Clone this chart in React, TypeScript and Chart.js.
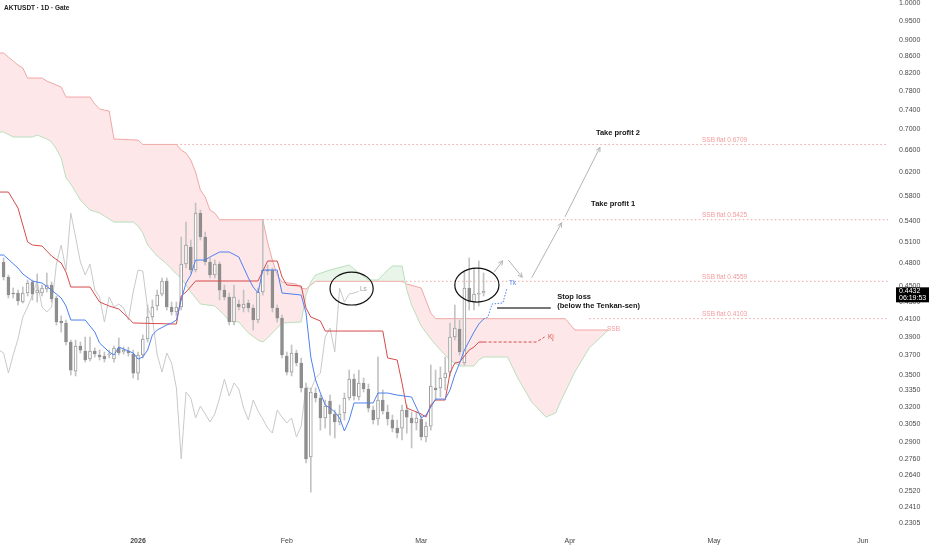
import React, { useEffect, useRef } from "react";
import { Chart, registerables } from "chart.js";

Chart.register(...registerables);

// ---------- axes ----------
const xMinDay = -28.75;
const xMaxDay = 156.25;
const monthTickDays = [0, 31, 59, 90, 120, 151];
const monthTickLabels = ["2026", "Feb", "Mar", "Apr", "May", "Jun"];
const priceTicks = [
  1.0, 0.95, 0.9, 0.86, 0.82, 0.78, 0.74, 0.7, 0.66, 0.62, 0.58, 0.54, 0.51, 0.48, 0.45, 0.43, 0.41, 0.39,
  0.37, 0.35, 0.335, 0.32, 0.305, 0.29, 0.276, 0.264, 0.252, 0.241, 0.2305,
];
const yMaxPrice = 1.0085;
const yMinPrice = 0.2247;

// ---------- candles (daily, first candle = 28 days before 1 Jan 2026) ----------
const candleStartDay = -28;
const opens = [
  0.4814, 0.4615, 0.4411, 0.4411, 0.43, 0.4411, 0.455, 0.4411, 0.4411, 0.4461, 0.4512, 0.4349, 0.4076, 0.4053,
  0.3841, 0.3539, 0.3798, 0.3745, 0.3661, 0.3745, 0.3703, 0.3692, 0.3703, 0.3661, 0.3777, 0.3734, 0.3745, 0.3713,
  0.3519, 0.3703, 0.3874, 0.4122, 0.4252, 0.4398, 0.4563, 0.424, 0.4181, 0.424, 0.4787, 0.5022, 0.4707, 0.5528,
  0.5166, 0.4814, 0.4641, 0.4787, 0.4448, 0.4361, 0.4064, 0.4276, 0.4228, 0.4288, 0.4228, 0.4087, 0.4423, 0.4707,
  0.4707, 0.4228, 0.411, 0.3692, 0.3529, 0.3724, 0.362, 0.3374, 0.2777, 0.3326, 0.328, 0.31, 0.3252, 0.3135,
  0.3065, 0.3144, 0.328, 0.346, 0.3289, 0.3422, 0.3364, 0.317, 0.3091, 0.3261, 0.3153, 0.3082, 0.3013, 0.3013,
  0.317, 0.31, 0.3056, 0.3091, 0.2938, 0.303, 0.3374, 0.3374, 0.347, 0.3529, 0.3896, 0.3985, 0.362, 0.4474, 0.43,
  0.4398, 0.4411,
];
const highs = [
  0.4869, 0.4641, 0.4474, 0.4448, 0.4486, 0.4576, 0.4576, 0.4654, 0.4512, 0.4667, 0.455, 0.4374, 0.4134, 0.4087,
  0.3863, 0.3863, 0.3841, 0.3896, 0.3896, 0.3777, 0.3755, 0.3734, 0.3755, 0.3798, 0.3885, 0.3787, 0.3787, 0.3755,
  0.3734, 0.3918, 0.4264, 0.4325, 0.4448, 0.4602, 0.4602, 0.43, 0.43, 0.5166, 0.5389, 0.5122, 0.5686, 0.5575,
  0.5239, 0.4869, 0.4841, 0.4814, 0.4512, 0.4411, 0.4512, 0.4325, 0.4448, 0.4325, 0.4264, 0.4474, 0.542, 0.4774,
  0.4733, 0.4264, 0.4145, 0.3734, 0.3809, 0.3755, 0.3672, 0.3422, 0.3374, 0.3374, 0.3307, 0.3261, 0.3307, 0.317,
  0.3216, 0.3326, 0.3549, 0.3509, 0.3549, 0.347, 0.3412, 0.3206, 0.3682, 0.3355, 0.3216, 0.3126, 0.3082, 0.3216,
  0.3216, 0.3153, 0.3153, 0.3126, 0.3065, 0.36, 0.3549, 0.358, 0.3682, 0.4053, 0.4264, 0.4087, 0.468, 0.4869,
  0.4733, 0.4828, 0.4667,
];
const lows = [
  0.4576, 0.4349, 0.4349, 0.4264, 0.4288, 0.4374, 0.4325, 0.43, 0.4374, 0.4423, 0.43, 0.403, 0.3951, 0.3809, 0.35,
  0.349, 0.3724, 0.363, 0.3641, 0.3682, 0.3651, 0.363, 0.3672, 0.363, 0.3703, 0.3713, 0.3692, 0.347, 0.3451,
  0.3672, 0.3841, 0.4087, 0.4204, 0.4374, 0.4204, 0.4145, 0.4134, 0.4204, 0.4733, 0.4667, 0.468, 0.5122, 0.4774,
  0.4602, 0.4602, 0.4325, 0.4325, 0.403, 0.403, 0.4204, 0.4181, 0.4181, 0.3974, 0.4053, 0.4386, 0.4641, 0.4181,
  0.4064, 0.3672, 0.35, 0.349, 0.359, 0.3336, 0.273, 0.2515, 0.3243, 0.2996, 0.3013, 0.2954, 0.293, 0.3039,
  0.3082, 0.3261, 0.3261, 0.3261, 0.3336, 0.3153, 0.3048, 0.3039, 0.3135, 0.3039, 0.298, 0.293, 0.2913, 0.2971,
  0.2848, 0.2996, 0.2913, 0.2897, 0.2996, 0.3261, 0.3289, 0.3355, 0.349, 0.3863, 0.3703, 0.36, 0.4204, 0.4204,
  0.4252, 0.4374,
];
const closes = [
  0.4615, 0.4386, 0.4399, 0.4313, 0.4411, 0.4537, 0.4398, 0.4448, 0.4474, 0.4512, 0.4337, 0.4064, 0.4053, 0.3841,
  0.3549, 0.3798, 0.3755, 0.3651, 0.3745, 0.3713, 0.3682, 0.3661, 0.3713, 0.3777, 0.3724, 0.3755, 0.3724, 0.3519,
  0.3703, 0.3874, 0.4122, 0.424, 0.4386, 0.4563, 0.424, 0.4181, 0.424, 0.4787, 0.5051, 0.4707, 0.5528, 0.5166,
  0.4814, 0.4641, 0.4787, 0.4448, 0.4361, 0.4064, 0.4361, 0.424, 0.4276, 0.4228, 0.4087, 0.4423, 0.4707, 0.4693,
  0.4228, 0.411, 0.3703, 0.3529, 0.3724, 0.362, 0.3374, 0.2761, 0.3336, 0.328, 0.31, 0.3206, 0.3135, 0.3065,
  0.3135, 0.328, 0.346, 0.3298, 0.3422, 0.3364, 0.3188, 0.3082, 0.3261, 0.3162, 0.3091, 0.3013, 0.2971, 0.317,
  0.3108, 0.3056, 0.31, 0.2938, 0.303, 0.3393, 0.3355, 0.347, 0.3519, 0.3896, 0.3996, 0.3734, 0.4474, 0.43, 0.4398,
  0.4411, 0.4432,
];

// ---------- Ichimoku lines: [day, price] ----------
const tenkanSen: [number, number][] = [
  [-29, 0.491], [-28, 0.491], [-25, 0.4733], [-24, 0.4654], [-22, 0.4563], [-20, 0.4537], [-18, 0.4448],
  [-16, 0.4349], [-15, 0.4252], [-14, 0.4087], [-11, 0.4087], [-9, 0.3951], [-8, 0.383], [-6, 0.3734],
  [-5, 0.3703], [-4, 0.3787], [-1, 0.3724], [0, 0.3661], [1, 0.3682], [2, 0.3755], [3, 0.3918], [4, 0.3974],
  [6, 0.403], [7, 0.4053], [8, 0.4087], [9, 0.4325], [10, 0.4537], [11, 0.4641], [12, 0.4841], [14, 0.4841],
  [15, 0.4883], [17, 0.4952], [19, 0.4952], [21, 0.4883], [23, 0.4602], [24, 0.4486], [25, 0.4411], [26, 0.4707],
  [29, 0.4707], [30, 0.4411], [34, 0.4386], [35, 0.4169], [36, 0.3682], [37, 0.3451], [38, 0.3326], [39, 0.3216],
  [40, 0.3188], [41, 0.3153], [42, 0.31], [43, 0.2988], [44, 0.3082], [45, 0.3234], [49, 0.3234], [50, 0.3326],
  [52, 0.3326], [54, 0.3307], [57, 0.3289], [59, 0.31], [60, 0.3126], [61, 0.3197], [62, 0.327], [64, 0.327],
  [65, 0.3355], [66, 0.35], [67, 0.362], [68, 0.3755], [70, 0.3951], [71, 0.4041], [72, 0.4099],
];
const tenkanProjection: [number, number][] = [
  [72, 0.4099], [72.9, 0.4122], [73.75, 0.4276], [76.0, 0.4288], [76.9, 0.4474],
];
const kijunSen: [number, number][] = [
  [-29, 0.5865], [-27, 0.5865], [-25, 0.5607], [-23, 0.5094], [-22, 0.5051], [-20, 0.5036], [-18, 0.4896],
  [-16, 0.4801], [-15, 0.468], [-14, 0.4486], [-10, 0.4486], [-8, 0.43], [-6, 0.4252], [-4, 0.4216], [-2, 0.411],
  [-1, 0.4053], [8, 0.4041], [9, 0.4374], [10, 0.4423], [12, 0.4563], [25, 0.4563], [26, 0.4693], [27, 0.4828],
  [29, 0.4828], [30, 0.4615], [31, 0.4512], [34, 0.4499], [35, 0.4228], [36, 0.4122], [38, 0.4076], [39, 0.3962],
  [51, 0.3962], [52, 0.3672], [54, 0.3651], [55, 0.3422], [56, 0.3188], [59, 0.3135], [60, 0.3108], [61, 0.3216],
  [62, 0.3261], [64, 0.3261], [65, 0.3519], [66, 0.362], [67, 0.363], [69, 0.3755], [70, 0.3787], [71, 0.3841],
  [72, 0.3841],
];
const kijunProjection: [number, number][] = [[72, 0.3841], [83, 0.3841], [84.7, 0.3896]];
const senkouB: [number, number][] = [
  [-29, 0.8684], [-28, 0.8684], [-27, 0.8586], [-26, 0.849], [-25, 0.8395], [-24, 0.8324], [-23, 0.8092],
  [-20, 0.8092], [-19, 0.8024], [-18, 0.7979], [-16, 0.7889], [-15, 0.767], [-10, 0.767], [-9, 0.752],
  [-8, 0.7415], [-7, 0.7392], [-6, 0.7373], [-5, 0.6813], [0, 0.6792], [1, 0.6709], [8, 0.6709], [9, 0.6603],
  [10, 0.6548], [11, 0.642], [12, 0.6206], [13, 0.5899], [14, 0.5784], [15, 0.5575], [16, 0.5528], [17, 0.5425],
  [26, 0.5425], [27, 0.5094], [28, 0.4841], [29, 0.4641], [30, 0.455], [33, 0.4524], [34, 0.4474], [35, 0.4461],
  [36, 0.4512], [37, 0.4559], [55, 0.4559], [56, 0.4524], [59, 0.4474], [61, 0.4169], [62, 0.4103], [89, 0.4103],
  [91, 0.3974], [98, 0.3974],
];
const senkouA: [number, number][] = [
  [-29, 0.6948], [-28, 0.6948], [-26, 0.6851], [-22, 0.6851], [-21, 0.689], [-19, 0.6813], [-18, 0.6755],
  [-17, 0.6623], [-16, 0.6456], [-15, 0.6102], [-14, 0.6], [-13, 0.5865], [-12, 0.5735], [-10, 0.5575],
  [-8, 0.5528], [-5, 0.5389], [-1, 0.5389], [0, 0.5329], [1, 0.5225], [2, 0.5051], [4, 0.4896], [6, 0.4787],
  [8, 0.4654], [9, 0.4602], [11, 0.4423], [13, 0.4276], [16, 0.4252], [18, 0.4145], [19, 0.4076], [21, 0.4064],
  [23, 0.394], [25, 0.3863], [26, 0.3841], [27, 0.3885], [28, 0.394], [30, 0.4053], [34, 0.4064], [35, 0.4386],
  [36, 0.455], [37, 0.4641], [40, 0.4707], [44, 0.4774], [45, 0.472], [48, 0.4576], [50, 0.4576], [52, 0.4707],
  [53, 0.476], [55, 0.476], [56, 0.4448], [57, 0.4264], [59, 0.4019], [61, 0.3874], [63, 0.3755], [65, 0.3651],
  [67, 0.359], [70, 0.359], [71, 0.3651], [72, 0.3682], [77, 0.3682], [79, 0.348], [82, 0.3243], [85, 0.3108],
  [87, 0.3144], [88, 0.3243], [91, 0.3529], [94, 0.3777], [98, 0.3974],
];
const laggingShift = 26;

// ---------- drawings ----------
const flatLevels = [0.6709, 0.5425, 0.4559, 0.4103];
const flatStartDays = [8, 26, 55, 94];
const flatLabelDay = 117.5;
const noteTexts = [
  { text: "Take profit 2", day: 95.4, price: 0.6929 },
  { text: "Take profit 1", day: 94.4, price: 0.567 },
  { text: "Stop loss", day: 87.35, price: 0.4361 },
  { text: "(below the Tenkan-sen)", day: 87.35, price: 0.4258 },
];
const lineTags = [
  { text: "Tk", day: 77.3, price: 0.4537, color: "#5b8af0" },
  { text: "Kj", day: 85.4, price: 0.3896, color: "#d9534f" },
  { text: "SSB", day: 97.7, price: 0.3985, color: "#f29b9b" },
  { text: "Ls", day: 46.25, price: 0.4461, color: "#9e9e9e" },
];
const ellipses = [
  { d1: 40.0, d2: 49.0, top: 0.468, bottom: 0.4264 },
  { d1: 66.0, d2: 75.2, top: 0.4733, bottom: 0.43 },
];
const arrows: [number, number][][] = [
  [[74.17, 0.4677], [75.98, 0.4832]],
  [[77.15, 0.4841], [80.06, 0.4611]],
  [[82.02, 0.4605], [88.27, 0.5379]],
  [[88.96, 0.547], [96.25, 0.6655]],
];
const stopLoss = { from: 74.8, to: 86.0, price: 0.4228 };
const lastPrice = 0.4432;
const countdown = "06:19:53";
const title = "AKTUSDT · 1D · Gate";

// ---------- styles ----------
const FONT = '"Liberation Sans", Arial, Helvetica, sans-serif';
const tenkanColor = "#4d80ee";
const kijunColor = "#d64b4b";
const laggingColor = "#c9c9c9";
const ssbColor = "#f4adad";
const ssaColor = "#b9dfbb";
const pinkFill = "rgba(242,54,69,0.12)";
const greenFill = "rgba(76,175,80,0.13)";
const downColor = "#8e8e8e";
const upBorder = "#9c9c9c";
const wickColor = "#c2c2c2";
const levelColor = "#f1a3a3";

const toPts = (pairs: [number, number][]) => pairs.map(([d, v]) => ({ x: d, y: v }));

const drawingsPlugin = {
  id: "drawings",
  afterDatasetsDraw(chart: any) {
    const { ctx, chartArea } = chart;
    const xs = chart.scales.x;
    const ys = chart.scales.y;
    const px = (d: number) => xs.getPixelForValue(d);
    const py = (p: number) => ys.getPixelForValue(p);
    ctx.save();

    // SSB flat labels
    ctx.fillStyle = "#f29b9b";
    ctx.font = `6.5px ${FONT}`;
    ctx.textBaseline = "middle";
    ctx.textAlign = "left";
    flatLevels.forEach((lv) => {
      ctx.fillText(`SSB flat ${lv.toFixed(4)}`, px(flatLabelDay), py(lv) - 4.5);
    });

    // ellipses
    ctx.strokeStyle = "#111";
    ctx.lineWidth = 1.2;
    ellipses.forEach((e) => {
      const x1 = px(e.d1), x2 = px(e.d2), y1 = py(e.top), y2 = py(e.bottom);
      ctx.beginPath();
      ctx.ellipse((x1 + x2) / 2, (y1 + y2) / 2, (x2 - x1) / 2, (y2 - y1) / 2, 0, 0, Math.PI * 2);
      ctx.stroke();
    });

    // arrows
    ctx.strokeStyle = "#b3b3b3";
    ctx.lineWidth = 1;
    arrows.forEach(([a, b]) => {
      const x1 = px(a[0]), y1 = py(a[1]), x2 = px(b[0]), y2 = py(b[1]);
      ctx.beginPath();
      ctx.moveTo(x1, y1);
      ctx.lineTo(x2, y2);
      const ang = Math.atan2(y2 - y1, x2 - x1);
      const L = 5;
      ctx.moveTo(x2 - L * Math.cos(ang - 0.45), y2 - L * Math.sin(ang - 0.45));
      ctx.lineTo(x2, y2);
      ctx.lineTo(x2 - L * Math.cos(ang + 0.45), y2 - L * Math.sin(ang + 0.45));
      ctx.stroke();
    });

    // stop loss line
    ctx.strokeStyle = "#4a4a4a";
    ctx.lineWidth = 1.5;
    ctx.beginPath();
    ctx.moveTo(px(stopLoss.from), py(stopLoss.price));
    ctx.lineTo(px(stopLoss.to), py(stopLoss.price));
    ctx.stroke();

    // notes
    ctx.fillStyle = "#131313";
    ctx.font = `bold 7.5px ${FONT}`;
    noteTexts.forEach((n) => ctx.fillText(n.text, px(n.day), py(n.price)));

    // line tags
    ctx.font = `6.5px ${FONT}`;
    lineTags.forEach((t) => {
      ctx.fillStyle = t.color;
      ctx.fillText(t.text, px(t.day), py(t.price));
    });

    // title
    ctx.fillStyle = "#222";
    ctx.font = `600 6.5px ${FONT}`;
    ctx.fillText(title, 4, 8);

    // last price box
    const yp = py(lastPrice);
    const bx = chartArea.right + 8;
    ctx.fillStyle = "#000";
    ctx.fillRect(bx, yp - 4, 33, 15);
    ctx.fillStyle = "#fff";
    ctx.font = `7px ${FONT}`;
    ctx.fillText(lastPrice.toFixed(4), bx + 3, yp - 0.5);
    ctx.fillText(countdown, bx + 3, yp + 6.5);
    ctx.restore();
  },
};

export default function App() {
  const ref = useRef<HTMLCanvasElement | null>(null);

  useEffect(() => {
    document.body.style.margin = "0";
    const canvas = ref.current;
    if (!canvas) return;

    const lineBase = {
      type: "line" as const,
      pointRadius: 0,
      pointHoverRadius: 0,
      tension: 0,
      fill: false,
      borderWidth: 1,
    };

    const candleData = opens.map((o, i) => ({ x: candleStartDay + i, y: [o, closes[i]] }));
    const wickData = highs.map((h, i) => ({ x: candleStartDay + i, y: [lows[i], h] }));
    const isUp = closes.map((c, i) => c >= opens[i]);
    // lagging span: each close plotted laggingShift days back
    const laggingData = closes
      .map((c, j) => ({ x: candleStartDay + j - laggingShift, y: c }))
      .filter((p) => p.x >= xMinDay - 1);

    const levelSets = flatLevels.map((lv, i) => ({
      ...lineBase,
      data: [
        { x: flatStartDays[i], y: lv },
        { x: xMaxDay, y: lv },
      ],
      borderColor: levelColor,
      borderDash: [1.5, 2.5],
      order: 18,
    }));

    const chart = new Chart(canvas, {
      type: "line",
      data: {
        datasets: [
          { ...lineBase, data: toPts(senkouB), borderColor: ssbColor, order: 20 },
          {
            ...lineBase,
            data: toPts(senkouA),
            borderColor: ssaColor,
            order: 19,
            fill: { target: 0, above: greenFill, below: pinkFill },
          },
          ...levelSets,
          { ...lineBase, data: laggingData, borderColor: laggingColor, order: 15 },
          {
            type: "bar",
            data: wickData,
            backgroundColor: wickColor,
            borderWidth: 0,
            barThickness: 1,
            grouped: false,
            order: 12,
          },
          {
            type: "bar",
            data: candleData,
            backgroundColor: isUp.map((u) => (u ? "#ffffff" : downColor)),
            borderColor: isUp.map((u) => (u ? upBorder : downColor)),
            borderWidth: 1,
            borderSkipped: false,
            barThickness: 3,
            minBarLength: 1,
            grouped: false,
            order: 11,
          },
          { ...lineBase, data: toPts(kijunSen), borderColor: kijunColor, order: 6 },
          { ...lineBase, data: toPts(kijunProjection), borderColor: kijunColor, borderDash: [3, 2], order: 6 },
          { ...lineBase, data: toPts(tenkanSen), borderColor: tenkanColor, order: 5 },
          {
            ...lineBase,
            data: toPts(tenkanProjection),
            borderColor: tenkanColor,
            borderDash: [1.5, 1.5],
            order: 5,
          },
        ] as any,
      },
      options: {
        animation: false,
        responsive: false,
        devicePixelRatio: 1,
        events: [],
        layout: { padding: 0, autoPadding: false },
        plugins: {
          legend: { display: false },
          tooltip: { enabled: false },
        },
        scales: {
          x: {
            type: "linear",
            min: xMinDay,
            max: xMaxDay,
            bounds: "data",
            offset: false,
            grid: { display: false, drawTicks: false },
            border: { display: false },
            afterBuildTicks: (s: any) => {
              s.ticks = monthTickDays.map((v) => ({ value: v }));
            },
            afterFit: (s: any) => {
              s.height = 18;
              s.paddingLeft = 0;
              s.paddingRight = 0;
            },
            ticks: {
              autoSkip: false,
              maxRotation: 0,
              padding: 5,
              color: "#444",
              font: (c: any) => ({
                size: 7,
                family: FONT,
                weight: c.tick && c.tick.value === 0 ? "bold" : "normal",
              }),
              callback: (v: any) => {
                const i = monthTickDays.indexOf(Number(v));
                return i >= 0 ? monthTickLabels[i] : "";
              },
            },
          },
          y: {
            type: "logarithmic",
            position: "right",
            min: yMinPrice,
            max: yMaxPrice,
            bounds: "data",
            grid: { display: false, drawTicks: false },
            border: { display: false },
            afterBuildTicks: (s: any) => {
              s.ticks = priceTicks.map((v) => ({ value: v }));
            },
            afterFit: (s: any) => {
              s.width = 44;
              s.paddingTop = 0;
              s.paddingBottom = 0;
            },
            ticks: {
              autoSkip: false,
              padding: 11,
              color: "#4a4a4a",
              font: { size: 7, family: FONT },
              callback: (v: any) => Number(v).toFixed(4),
            },
          },
        },
      } as any,
      plugins: [drawingsPlugin],
    });

    return () => chart.destroy();
  }, []);

  return (
    <div style={{ position: "fixed", left: 0, top: 0, width: 932, height: 550, background: "#fff" }}>
      <canvas ref={ref} width={932} height={550} style={{ width: 932, height: 550, display: "block" }} />
    </div>
  );
}
